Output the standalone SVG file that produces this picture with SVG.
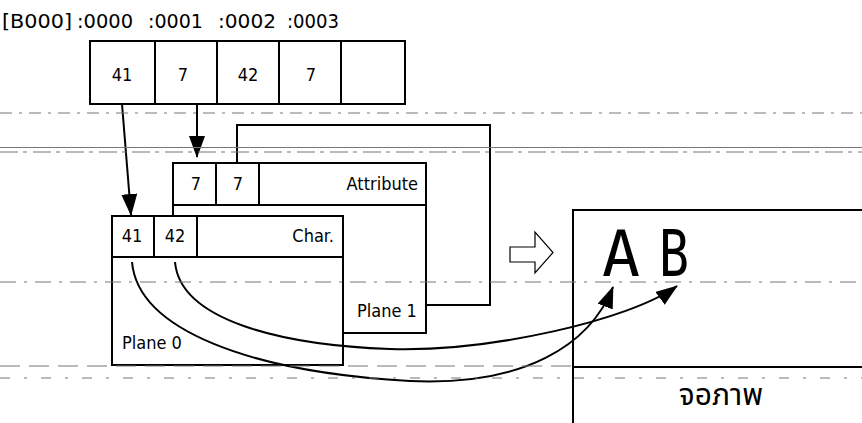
<svg xmlns="http://www.w3.org/2000/svg" width="862" height="423" viewBox="0 0 862 423">
<defs>
<style>
.t{font-family:"DejaVu Sans Condensed","DejaVu Sans","Liberation Sans",sans-serif;font-stretch:condensed;font-size:18px;fill:#000}
.h{font-size:20px}
.c{text-anchor:middle}
.r{text-anchor:end}
.box{fill:#fff;stroke:#000;stroke-width:2}
.ln{fill:none;stroke:#000;stroke-width:2}
.scan{fill:none;stroke:#777;stroke-width:1}
.big{font-family:"DejaVu Sans Mono","Liberation Mono",monospace;font-size:64px;fill:#000}
.thai{font-family:"Noto Sans Thai","Noto Sans","DejaVu Sans",sans-serif;font-size:30px;fill:#000;text-anchor:middle}
</style>
<marker id="ah" markerUnits="userSpaceOnUse" markerWidth="22" markerHeight="16" viewBox="0 0 22 16" refX="21" refY="8" orient="auto">
<path d="M0,0 L22,8 L0,16 Z" fill="#000"/>
</marker>
</defs>
<rect width="862" height="423" fill="#fff"/>

<g id="header">
<text class="t h" x="2" y="28" textLength="70" lengthAdjust="spacingAndGlyphs">[B000]</text>
<text class="t h" x="77" y="28" textLength="56" lengthAdjust="spacingAndGlyphs">:0000</text>
<text class="t h" x="148" y="28" textLength="55" lengthAdjust="spacingAndGlyphs">:0001</text>
<text class="t h" x="218" y="28" textLength="58" lengthAdjust="spacingAndGlyphs">:0002</text>
<text class="t h" x="287" y="28" textLength="52" lengthAdjust="spacingAndGlyphs">:0003</text>
</g>

<g id="memory">
<rect class="box" x="90" y="41" width="315" height="63"/>
<path class="ln" d="M155,41V104M217,41V104M279,41V104M341,41V104"/>
<text class="t c" x="122" y="81">41</text>
<text class="t c" x="183" y="81">7</text>
<text class="t c" x="248" y="81">42</text>
<text class="t c" x="311" y="81">7</text>
</g>

<g id="plane1">
<rect class="box" x="173" y="163" width="253" height="170"/>
<path class="ln" d="M173,205H426M216,163V205M259,163V205"/>
<text class="t c" x="196" y="190">7</text>
<text class="t c" x="238" y="190">7</text>
<text class="t r" x="418" y="190">Attribute</text>
<text class="t" x="357" y="317">Plane 1</text>
</g>

<g id="plane0">
<rect class="box" x="112" y="216" width="231" height="149"/>
<path class="ln" d="M112,257H343M154,216V257M197,216V257"/>
<text class="t c" x="132" y="242">41</text>
<text class="t c" x="175" y="242">42</text>
<text class="t r" x="334" y="242">Char.</text>
<text class="t" x="122" y="349">Plane 0</text>
</g>

<g id="display">
<path class="ln" d="M870,210H573V423M573,367H870"/>
<text class="big" x="602" y="276" textLength="38" lengthAdjust="spacingAndGlyphs">A</text>
<text class="big" x="659" y="276" textLength="30" lengthAdjust="spacingAndGlyphs">B</text>
<text class="thai" x="721" y="405">จอภาพ</text>
</g>

<g id="convert">
<path d="M510,247H535V232L553,252.5L535,273V262H510Z" fill="#fff" stroke="#000" stroke-width="1.2"/>
</g>

<g id="connectors">
<path class="ln" d="M122,104L131,215" marker-end="url(#ah)"/>
<path class="ln" d="M197,104V157" marker-end="url(#ah)"/>
<path class="ln" d="M237,163V125H490V305H426"/>
<path class="ln" d="M132,262C138,330 250,372 410,381C525,386 590,345 613,287" marker-end="url(#ah)"/>
<path class="ln" d="M175,262C180,320 280,345 390,349C490,352 630,320 677,286" marker-end="url(#ah)"/>
</g>

<g id="scanlines">
<path class="scan" d="M0,113H862" stroke-dasharray="12 7 3 7"/>
<path class="scan" d="M0,147.5H862" stroke-width="1.5" stroke="#000"/>
<path class="scan" d="M0,152H862" stroke-dasharray="18 5 4 6"/>
<path class="scan" d="M0,282H862" stroke-dasharray="16 8 3 8"/>
<path class="scan" d="M0,366H573" stroke-dasharray="20 9"/>
<path class="scan" d="M0,378H862" stroke-dasharray="10 14 3 14"/>
</g>
</svg>
